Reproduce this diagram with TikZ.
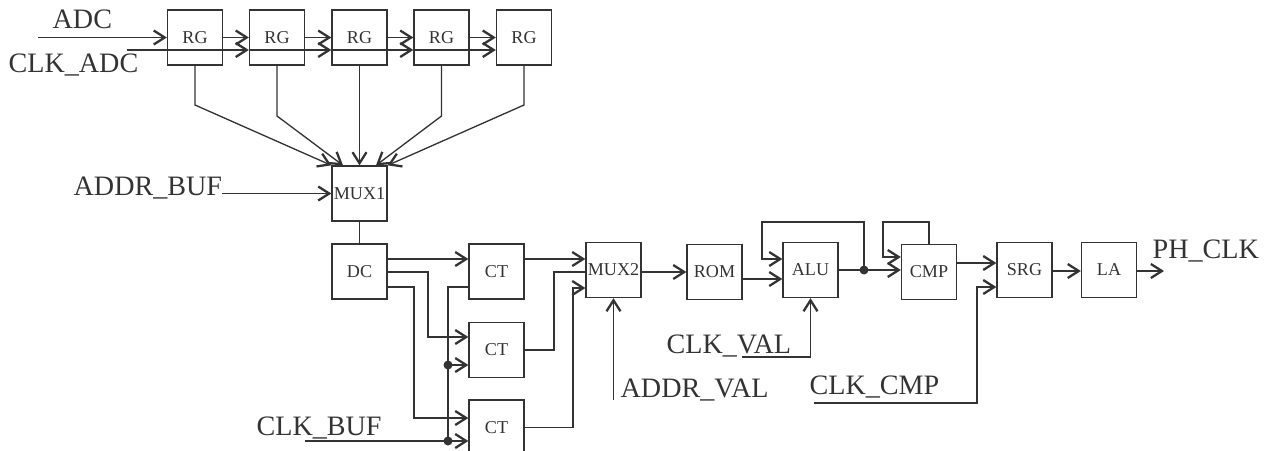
\documentclass[tikz,border=0pt]{standalone}
\usepackage{fontspec}
\setmainfont{Liberation Serif}
\usepackage{tikz}
\usetikzlibrary{arrows.meta,calc}
\definecolor{WireInk}{HTML}{333333}
\newcommand{\SignalFont}{\fontsize{16}{18}\selectfont}
\newcommand{\BlockFont}{\fontsize{10.3}{12}\selectfont}
\tikzset{
  scheme/.style={x=0.02cm,y=-0.02cm,color=WireInk,line width=0.75pt},
  block/.style={draw=WireInk,line width=0.75pt,minimum width=1.1cm,minimum height=1.1cm,
    inner sep=0pt,font=\BlockFont},
  signal/.style={font=\SignalFont,inner sep=0pt,anchor=base west},
  flow/.style={-{Straight Barb[length=2.2mm,width=2.8mm,line width=1.3pt]}},
}

\begin{document}
\begin{tikzpicture}[scheme]
  \clip (0,0) rectangle (1267,450);

  % register chain
  \node[block] (rg1) at (195,37.5) {RG};
  \node[block] (rg2) at (277,37.5) {RG};
  \node[block] (rg3) at (359.5,37.5) {RG};
  \node[block] (rg4) at (441.5,37.5) {RG};
  \node[block] (rg5) at (524,37.5) {RG};

  \node[block] (mux1) at (359.5,193.5) {MUX1};
  \node[block] (dc) at (359.5,271.5) {DC};
  \node[block] (ct1) at (496.5,271.5) {CT};
  \node[block] (ct2) at (496.5,350) {CT};
  \node[block] (ct3) at (496.5,427.5) {CT};
  \node[block] (mux2) at (613.5,270) {MUX2};
  \node[block] (rom) at (714.5,272) {ROM};
  \node[block] (alu) at (810.5,270) {ALU};
  \node[block] (cmp) at (929,272) {CMP};
  \node[block] (srg) at (1024.5,270) {SRG};
  \node[block] (la) at (1109,270) {LA};

  \node[signal] (adc) at (52,28) {ADC};
  \node[signal] (clkadclabel) at (8,72) {CLK\_ADC};
  \node[signal] (addrbuf) at (73,195) {ADDR\_BUF};
  \node[signal] (clkbuflabel) at (256,435) {CLK\_BUF};
  \node[signal] (addrval) at (620,397) {ADDR\_VAL};
  \node[signal] (clkval) at (666,353) {CLK\_VAL};
  \node[signal] (clkcmp) at (809,394) {CLK\_CMP};
  \node[signal] (phclk) at (1152,258) {PH\_CLK};

  \coordinate (adcin) at (38,37.5);
  \coordinate (clkadc) at (127,50);
  \coordinate (bufin) at (222,193.5);
  \coordinate (clkbuf) at (305,441);
  \coordinate (tap2) at (448,365);
  \coordinate (tap3) at (448,441);
  \coordinate (valin) at (613.5,400);
  \coordinate (clkvalin) at (742,357);
  \coordinate (clkcmpin) at (814,403);
  \coordinate (aluout) at (864,270);
  \coordinate (phout) at (1164,271);

  \draw[flow] (adcin) -- (rg1);
  \foreach \a/\b in {rg1/rg2,rg2/rg3,rg3/rg4,rg4/rg5}
    \draw[flow] (\a) -- (\b);
  \draw[flow] (clkadc) -- (rg2.west |- clkadc);
  \foreach \a/\b in {rg2/rg3,rg3/rg4,rg4/rg5}
    \draw[flow] (\a.west |- clkadc) -- (\b.west |- clkadc);

  % fan-in to MUX1
  \draw[flow] (rg1.south) -- (195,105) -- (mux1.north west);
  \draw[flow] (rg2.south) -- (277,116) -- ($(mux1.north)+(-16.5,0)$);
  \draw[flow] (rg3.south) -- (mux1.north);
  \draw[flow] (rg4.south) -- (441.5,116) -- ($(mux1.north)+(16.5,0)$);
  \draw[flow] (rg5.south) -- (524,105) -- (mux1.north east);
  \draw[flow] (bufin) -- (mux1);
  \draw (mux1) -- (dc);

  % decoder to counters
  \draw[flow] (dc.east |- 0,259) -- (ct1.west |- 0,259);
  \draw[flow] (dc.east |- 0,272) -| (428,337) -- (ct2.west |- 0,337);
  \draw[flow] (dc.east |- 0,287) -| (414,418) -- (ct3.west |- 0,418);
  \draw (ct1.west |- 0,287) -| (tap3);
  \draw[flow] (clkbuf) -- (ct3.west |- clkbuf);
  \draw[flow] (tap2) -- (ct2.west |- tap2);
  \fill (tap2) circle (0.09cm);
  \fill (tap3) circle (0.09cm);

  % counters to MUX2
  \draw[flow] (ct1.east |- 0,259) -- (mux2.west |- 0,259);
  \draw (ct2.east) -| (554,272) -- (mux2.west |- 0,272);
  \draw[flow] (ct3.east) -| (573,288) -- (mux2.west |- 0,288);
  \draw[flow] (valin) -- (mux2.south);

  \draw[flow] (mux2.east |- 0,272) -- (rom.west |- 0,272);
  \draw[flow] (rom.east |- 0,279) -- (alu.west |- 0,279);
  \draw (alu.east |- aluout) -- (aluout);
  \draw[flow] (aluout) -- (cmp.west |- aluout);
  \fill (aluout) circle (0.09cm);
  \draw[flow] (aluout) |- (762,222) |- (alu.west |- 0,259);
  \draw[flow] (cmp.north) |- (883,222) |- (cmp.west |- 0,257);
  \draw[flow] (clkvalin) -| (alu.south);

  \draw[flow] (cmp.east |- 0,263) -- (srg.west |- 0,263);
  \draw[flow] (clkcmpin) -| (977,287) -- (srg.west |- 0,287);
  \draw[flow] (srg.east |- 0,271) -- (la.west |- 0,271);
  \draw[flow] (la.east |- phout) -- (phout);
\end{tikzpicture}
\end{document}
